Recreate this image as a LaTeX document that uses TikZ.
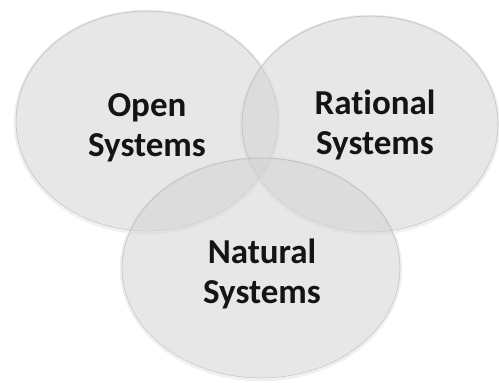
\documentclass[tikz,border=0pt]{standalone}
\usepackage{fontspec}
\setmainfont[Ligatures={NoCommon,NoContextual}]{Carlito}
\begin{document}
\begin{tikzpicture}[x=1pt,y=-1pt,
  circ/.style={fill=black!17,fill opacity=0.55,draw=black!35,draw opacity=0.5,line width=0.7pt},
  halo/.style={draw=black!6,line width=2.5pt},
  lbl/.style={font=\bfseries\fontsize{35}{40}\selectfont,align=center,text=black!92}]
\useasboundingbox[fill=white] (0,0) rectangle (499,383);
\draw[halo] (147,122) ellipse [x radius=132,y radius=111];
\draw[halo] (370,125) ellipse [x radius=129,y radius=109];
\draw[halo] (261,269) ellipse [x radius=140,y radius=111];
\path[circ] (147,121) ellipse [x radius=131,y radius=110];
\path[circ] (370,124) ellipse [x radius=128,y radius=108];
\path[circ] (261,268) ellipse [x radius=139,y radius=110];
\node[lbl] (open) at (147,128) {Open\\Systems};
\node[lbl] (rational) at (375,125) {Rational\\Systems};
\node[lbl] (natural) at (262,274) {Natural\\Systems};
\end{tikzpicture}
\end{document}
